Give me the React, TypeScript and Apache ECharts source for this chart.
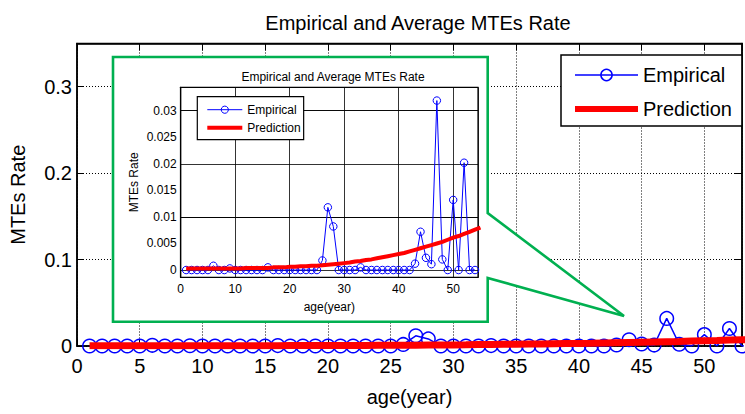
import React, { useEffect, useRef } from "react";
import * as echarts from "echarts";

const TITLE = "Empirical and Average MTEs Rate";
const X_NAME = "age(year)";
const Y_NAME = "MTEs Rate";
const SERIES_NAMES = ["Empirical", "Prediction"];

const AGES = [
  1, 2, 3, 4, 5, 6, 7, 8, 9, 10, 11, 12, 13, 14, 15, 16, 17, 18, 19, 20, 21, 22, 23, 24, 25, 26, 27,
  28, 29, 30, 31, 32, 33, 34, 35, 36, 37, 38, 39, 40, 41, 42, 43, 44, 45, 46, 47, 48, 49, 50, 51, 52,
  53, 54,
];
const EMPIRICAL = [
  0, 0, 0, 0, 0, 0.0008, 0, 0, 0.0003, 0, 0, 0, 0, 0, 0, 0.0005, 0, 0, 0, 0, 0, 0, 0, 0, 0, 0.0018,
  0.0118, 0.0082, 0, 0, 0, 0, 0.0005, 0, 0, 0, 0, 0, 0, 0, 0, 0, 0.0012, 0.0072, 0.0023, 0.0011,
  0.0319, 0.002, 0, 0.0132, 0, 0.0202, 0, 0,
];
const PRED_AGES = [
  1, 2, 3, 4, 5, 6, 7, 8, 9, 10, 11, 12, 13, 14, 15, 16, 17, 18, 19, 20, 21, 22, 23, 24, 25, 26, 27,
  28, 29, 30, 31, 32, 33, 34, 35, 36, 37, 38, 39, 40, 41, 42, 43, 44, 45, 46, 47, 48, 49, 50, 51, 52,
  53, 54, 55,
];
const PREDICTION = [
  0.0003, 0.0003, 0.0003, 0.0003, 0.0003, 0.0003, 0.0003, 0.0003, 0.0003, 0.0003, 0.0003, 0.0004,
  0.0004, 0.0004, 0.0004, 0.0004, 0.0005, 0.0005, 0.0005, 0.0006, 0.0006, 0.0007, 0.0007, 0.0008,
  0.0008, 0.0009, 0.001, 0.0011, 0.0012, 0.0013, 0.0014, 0.0016, 0.0017, 0.0019, 0.002, 0.0022,
  0.0024, 0.0026, 0.0028, 0.003, 0.0032, 0.0035, 0.0038, 0.0041, 0.0044, 0.0047, 0.005, 0.0053,
  0.0057, 0.0061, 0.0064, 0.0068, 0.0072, 0.0076, 0.008,
];
const INSET_Y_TICKS = [0, 0.005, 0.01, 0.015, 0.02, 0.025, 0.03];

const FONT = "'Liberation Sans', Arial, Helvetica, sans-serif";
const BLUE = "#0000ff";
const RED = "#ff0000";
const GREEN = "#00b050";

const isMultiple = (v: number, step: number) => Math.abs(v / step - Math.round(v / step)) < 1e-6;

function buildOption() {
  const emp = AGES.map((a, i) => [a, EMPIRICAL[i]]);
  const pred = PRED_AGES.map((a, i) => [a, PREDICTION[i]]);

  const mainX = { min: 0, max: 53, interval: 5 };
  const mainY = { min: 0, max: 0.35, interval: 0.1 };

  return {
    animation: false,
    backgroundColor: "#fff",
    textStyle: { fontFamily: FONT, color: "#000" },
    title: [
      {
        text: TITLE,
        left: 413,
        textAlign: "center",
        top: 8,
        textStyle: { fontFamily: FONT, fontSize: 20, fontWeight: "normal", color: "#000" },
        z: 20,
      },
      {
        text: TITLE,
        left: 328,
        textAlign: "center",
        top: 66,
        textStyle: { fontFamily: FONT, fontSize: 12, fontWeight: "normal", color: "#000" },
        z: 20,
      },
    ],
    grid: [
      {
        left: 76.5,
        top: 43.5,
        width: 673.6,
        height: 302.5,
        show: true,
        borderColor: "#000",
        borderWidth: 1.5,
        backgroundColor: "transparent",
        z: 0,
      },
      {
        left: 180.7,
        top: 87.3,
        width: 297.3,
        height: 190,
        show: true,
        borderColor: "#000",
        borderWidth: 1.2,
        backgroundColor: "transparent",
        z: 11,
      },
    ],
    graphic: [
      {
        type: "polygon",
        z: 5,
        shape: {
          points: [
            [113, 57],
            [487.7, 57],
            [487.7, 213],
            [624, 316],
            [487.7, 278],
            [487.7, 321.7],
            [113, 321.7],
          ],
        },
        style: { fill: "#fff", stroke: GREEN, lineWidth: 2.6 },
      },
    ],
    legend: [
      {
        orient: "vertical",
        left: 561,
        top: 55,
        padding: [10, 10, 7, 11],
        itemGap: 14,
        itemWidth: 63,
        itemHeight: 14,
        selectedMode: false,
        borderColor: "#000",
        borderWidth: 1.5,
        backgroundColor: "#fff",
        textStyle: { fontFamily: FONT, fontSize: 20, color: "#000" },
        data: [
          { name: SERIES_NAMES[0], itemStyle: { borderWidth: 1.5 }, lineStyle: { width: 1.5 } },
          { name: SERIES_NAMES[1], itemStyle: { opacity: 0 }, lineStyle: { width: 6 } },
        ],
        z: 20,
      },
      {
        orient: "vertical",
        left: 197.3,
        top: 96.7,
        padding: [7, 3, 6, 8],
        itemGap: 6,
        itemWidth: 35,
        itemHeight: 9,
        selectedMode: false,
        borderColor: "#000",
        borderWidth: 1.2,
        backgroundColor: "#fff",
        textStyle: { fontFamily: FONT, fontSize: 12, color: "#000" },
        data: [
          { name: SERIES_NAMES[0], itemStyle: { borderWidth: 1 }, lineStyle: { width: 1 } },
          { name: SERIES_NAMES[1], itemStyle: { opacity: 0 }, lineStyle: { width: 4 } },
        ],
        z: 20,
      },
    ],
    xAxis: [
      {
        type: "value",
        gridIndex: 0,
        ...mainX,
        name: X_NAME,
        nameLocation: "middle",
        nameGap: 41,
        nameTextStyle: { fontFamily: FONT, fontSize: 20, color: "#000" },
        axisLine: { show: true, onZero: false, lineStyle: { color: "#000", width: 1.5 } },
        axisTick: { show: true, inside: true, length: 7, lineStyle: { color: "#000", width: 1 } },
        axisLabel: {
          fontFamily: FONT,
          fontSize: 20,
          color: "#000",
          margin: 10,
          formatter: (v: number) => (isMultiple(v, 5) ? String(v) : ""),
        },
        splitLine: { show: true, lineStyle: { type: [1, 2], color: "#000", width: 1 } },
        z: 0,
      },
      {
        type: "value",
        gridIndex: 0,
        position: "top",
        ...mainX,
        axisLine: { show: true, onZero: false, lineStyle: { color: "#000", width: 1.5 } },
        axisTick: { show: true, inside: true, length: 7, lineStyle: { color: "#000", width: 1 } },
        axisLabel: { show: false },
        splitLine: { show: false },
        z: 0,
      },
      {
        type: "value",
        gridIndex: 1,
        min: 0,
        max: 54.55,
        interval: 10,
        name: X_NAME,
        nameLocation: "middle",
        nameGap: 24,
        nameTextStyle: { fontFamily: FONT, fontSize: 12, color: "#000" },
        axisLine: { show: true, onZero: false, lineStyle: { color: "#000", width: 1.2 } },
        axisTick: { show: false },
        axisLabel: {
          fontFamily: FONT,
          fontSize: 12,
          color: "#000",
          margin: 6,
          formatter: (v: number) => (isMultiple(v, 10) ? String(v) : ""),
        },
        splitLine: { show: true, lineStyle: { type: "solid", color: "#000", width: 0.8 } },
        z: 12,
      },
    ],
    yAxis: [
      {
        type: "value",
        gridIndex: 0,
        ...mainY,
        name: Y_NAME,
        nameLocation: "middle",
        nameGap: 49,
        nameRotate: 90,
        nameTextStyle: { fontFamily: FONT, fontSize: 20, color: "#000" },
        axisLine: { show: true, onZero: false, lineStyle: { color: "#000", width: 1.5 } },
        axisTick: { show: true, inside: true, length: 7, lineStyle: { color: "#000", width: 1 } },
        axisLabel: {
          fontFamily: FONT,
          fontSize: 20,
          color: "#000",
          margin: 5,
          formatter: (v: number) => (isMultiple(v, 0.1) ? String(v) : ""),
        },
        splitLine: { show: true, lineStyle: { type: [1, 2], color: "#000", width: 1 } },
        z: 0,
      },
      {
        type: "value",
        gridIndex: 0,
        position: "right",
        ...mainY,
        axisLine: { show: true, onZero: false, lineStyle: { color: "#000", width: 1.5 } },
        axisTick: { show: true, inside: true, length: 7, lineStyle: { color: "#000", width: 1 } },
        axisLabel: { show: false },
        splitLine: { show: false },
        z: 0,
      },
      {
        type: "value",
        gridIndex: 1,
        min: -0.00137,
        max: 0.0344,
        name: Y_NAME,
        nameLocation: "middle",
        nameGap: 41,
        nameRotate: 90,
        nameTextStyle: { fontFamily: FONT, fontSize: 12, color: "#000" },
        axisLine: { show: true, onZero: false, lineStyle: { color: "#000", width: 1.2 } },
        axisTick: { show: false, customValues: INSET_Y_TICKS },
        axisLabel: {
          fontFamily: FONT,
          fontSize: 12,
          color: "#000",
          margin: 4,
          customValues: INSET_Y_TICKS,
          formatter: (v: number) => String(v),
        },
        splitLine: { show: false },
        z: 12,
      },
    ],
    series: [
      {
        name: SERIES_NAMES[0],
        type: "line",
        xAxisIndex: 0,
        yAxisIndex: 0,
        data: emp,
        symbol: "circle",
        symbolSize: 13.5,
        itemStyle: { color: "rgba(0,0,0,0)", borderColor: BLUE, borderWidth: 1.5 },
        lineStyle: { color: BLUE, width: 1.5 },
        z: 2,
      },
      {
        name: SERIES_NAMES[1],
        type: "line",
        xAxisIndex: 0,
        yAxisIndex: 0,
        data: pred,
        symbol: "none",
        itemStyle: { color: RED },
        lineStyle: { color: RED, width: 7 },
        z: 3,
      },
      {
        name: "inset-grid",
        type: "line",
        xAxisIndex: 2,
        yAxisIndex: 2,
        data: [],
        symbol: "none",
        silent: true,
        z: 12,
        markLine: {
          silent: true,
          symbol: ["none", "none"],
          label: { show: false },
          lineStyle: { color: "#000", width: 0.8, type: "solid" },
          emphasis: { disabled: true },
          z: 12,
          data: INSET_Y_TICKS.map((v) => ({ yAxis: v })),
        },
      },
      {
        name: SERIES_NAMES[0],
        type: "line",
        xAxisIndex: 2,
        yAxisIndex: 2,
        data: emp,
        symbol: "circle",
        symbolSize: 7.5,
        itemStyle: { color: "rgba(0,0,0,0)", borderColor: BLUE, borderWidth: 1 },
        lineStyle: { color: BLUE, width: 1 },
        z: 14,
      },
      {
        name: SERIES_NAMES[1],
        type: "line",
        xAxisIndex: 2,
        yAxisIndex: 2,
        data: pred,
        symbol: "none",
        itemStyle: { color: RED },
        lineStyle: { color: RED, width: 4 },
        z: 15,
      },
    ],
  };
}

export default function App() {
  const ref = useRef<HTMLDivElement>(null);
  useEffect(() => {
    if (!ref.current) return;
    const chart = echarts.init(ref.current, null, { renderer: "svg" });
    chart.setOption(buildOption() as any);
    return () => chart.dispose();
  }, []);
  return (
    <div
      ref={ref}
      style={{ position: "absolute", left: 0, top: 0, width: 745, height: 414, background: "#fff" }}
    />
  );
}
